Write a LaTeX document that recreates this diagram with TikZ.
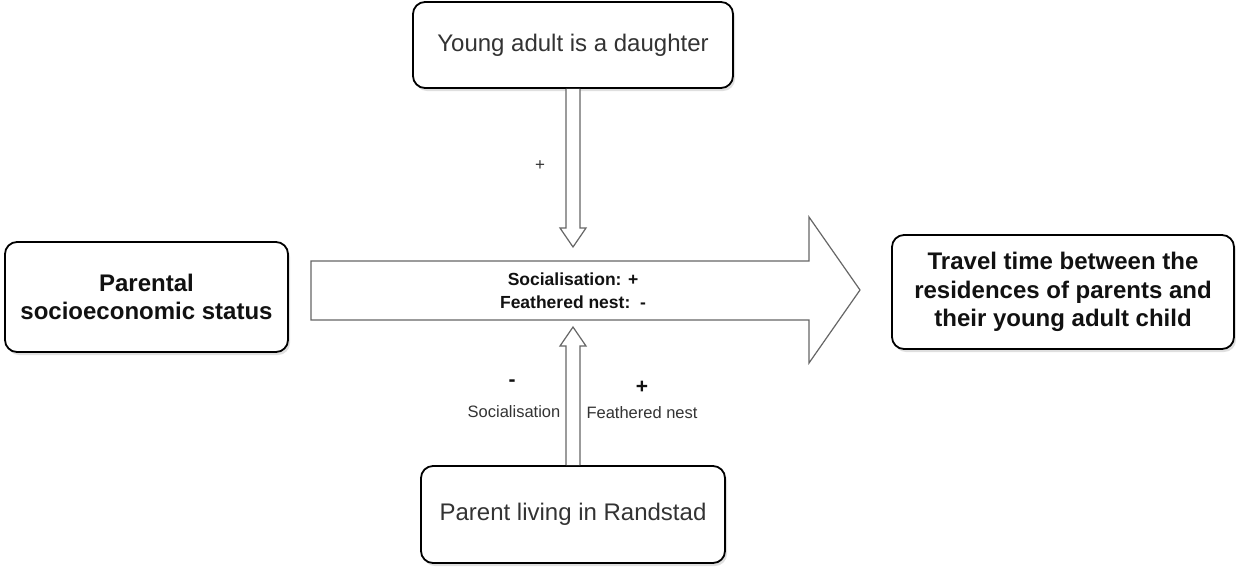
\documentclass[tikz,border=0pt]{standalone}
\usepackage{fontspec}
\setmainfont{Liberation Sans}
\usetikzlibrary{shadows,calc}
\definecolor{boxtext}{HTML}{333333}
\definecolor{boldtext}{HTML}{111111}
\definecolor{arrline}{HTML}{666666}
\begin{document}
\begin{tikzpicture}[x=1pt,y=-1pt,
  box/.style={draw=black, line width=1.8pt, rounded corners=12pt, fill=white,
    align=center, inner sep=0pt,
    drop shadow={opacity=0.25, shadow xshift=2pt, shadow yshift=-3pt}},
  plainbox/.style={box, text=boxtext, font=\fontsize{24}{29}\selectfont},
  boldbox/.style={box, text=boldtext, font=\fontsize{24}{28.5}\selectfont\bfseries},
  fat/.style={draw=arrline, line width=1.2pt, fill=white, line join=miter},
  smalllab/.style={text=boxtext, font=\fontsize{16.5}{19}\selectfont, inner sep=0pt},
  signlab/.style={text=boldtext, font=\fontsize{21}{22}\selectfont\bfseries, inner sep=0pt}
]
\useasboundingbox (0,0) rectangle (1236,566);

% boxes
\node[plainbox, minimum width=320pt, minimum height=86pt] (top) at (573,45) {Young adult is a daughter};
\node[boldbox, minimum width=283pt, minimum height=110pt] (left) at (146.5,297) {Parental\\socioeconomic status};
\node[boldbox, minimum width=342pt, minimum height=114pt] (right) at (1063,292) {Travel time between the\\residences of parents and\\their young adult child};
\node[plainbox, minimum width=304pt, minimum height=97pt] (bot) at (573,514.5) {Parent living in Randstad};

% big arrow
\draw[fat] (311,261) -- (809,261) -- (809,217) -- (860,290) -- (809,363) -- (809,320) -- (311,320) -- cycle;
\node[align=center, text=boldtext, font=\fontsize{17.5}{23}\selectfont\bfseries, inner sep=0pt] (mid) at (573,291) {Socialisation: +\\Feathered nest:\ \ -};

% vertical arrow from top box
\coordinate (ta) at (top.south);
\coordinate (tb) at (573,247);
\draw[fat] ($(ta)+(-7,0)$) -- ($(tb)+(-7,-19)$) -- ($(tb)+(-13,-19)$) -- (tb) -- ($(tb)+(13,-19)$) -- ($(tb)+(7,-19)$) -- ($(ta)+(7,0)$);

% vertical arrow from bottom box
\coordinate (ba) at (bot.north);
\coordinate (bb) at (573,327);
\draw[fat] ($(ba)+(-7,0)$) -- ($(bb)+(-7,19)$) -- ($(bb)+(-13,19)$) -- (bb) -- ($(bb)+(13,19)$) -- ($(bb)+(7,19)$) -- ($(ba)+(7,0)$);

% labels
\node[text=boxtext, font=\fontsize{17}{20}\selectfont, inner sep=0pt] (plustop) at (540,166) {+};
\node[signlab] (minus) at (512,383) {-};
\node[signlab] (plus) at (642,387) {+};
\node[smalllab] (soc) at (514,412) {Socialisation};
\node[smalllab] (fn) at (642,413) {Feathered nest};
\end{tikzpicture}
\end{document}
